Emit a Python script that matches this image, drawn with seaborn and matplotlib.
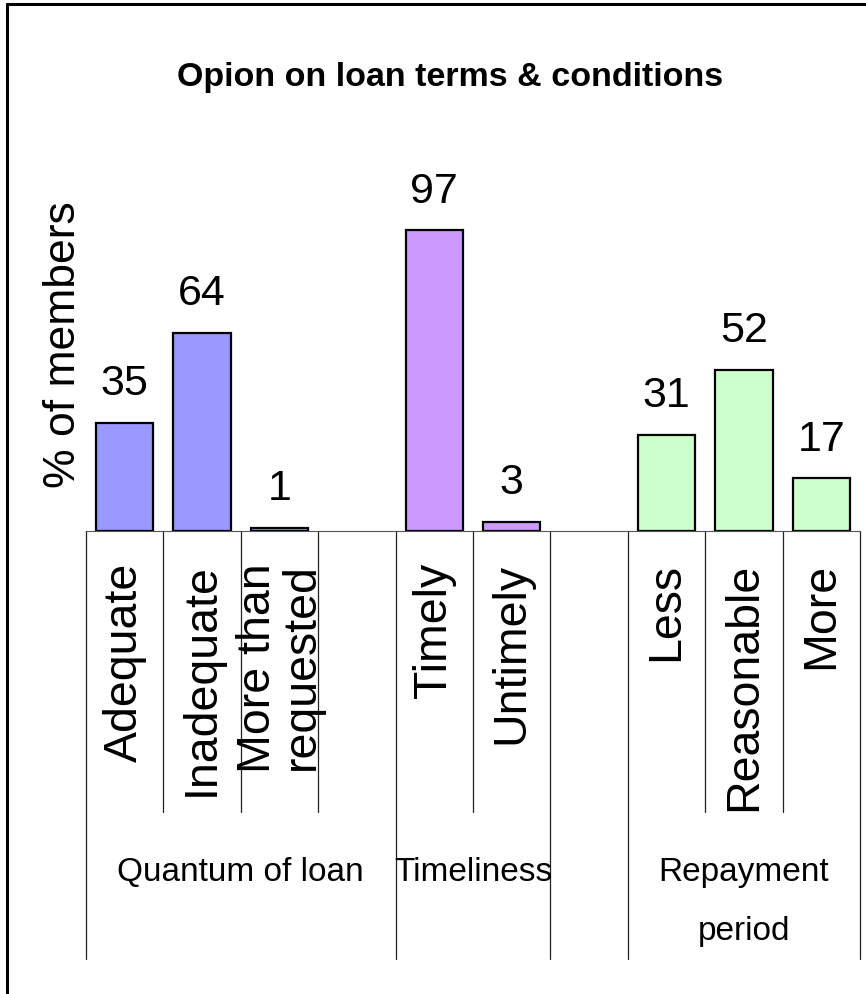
import matplotlib
matplotlib.use("Agg")
import matplotlib.pyplot as plt
import matplotlib.transforms as mtransforms
from matplotlib.lines import Line2D
import numpy as np
import pandas as pd
import seaborn as sns

# ---- data -------------------------------------------------------------
title = "Opion on loan terms & conditions"
y_label = "% of members"

# inner category cells (blank cells keep the gaps between groups)
categories = ["Adequate", "Inadequate", "More than\nrequested", "",
              "Timely", "Untimely", "",
              "Less", "Reasonable", "More"]
# outer group of each cell
groups = ["Quantum of loan"] * 4 + ["Timeliness"] * 2 + [""] + ["Repayment\nperiod"] * 3
# percentage of members
values = [35, 64, 1, np.nan, 97, 3, np.nan, 31, 52, 17]

group_colors = {
    "Quantum of loan": "#9999FF",
    "Timeliness": "#CC99FF",
    "Repayment\nperiod": "#CCFFCC",
}

W, H, DPI = 866, 995, 100

sns.set_theme(style="white")
plt.rcParams["font.family"] = ["Liberation Sans", "DejaVu Sans"]
plt.rcParams["text.color"] = "black"

fig = plt.figure(figsize=(W / DPI, H / DPI), dpi=DPI)
fig.patch.set_facecolor("white")


def fy(py):
    """pixel row -> figure fraction"""
    return 1 - py / H


# plot area (pixels)
left, right, top, bottom = 86, 860, 222, 532
ax = fig.add_axes([left / W, fy(bottom), (right - left) / W, (bottom - top) / H])

df = pd.DataFrame({"slot": range(len(categories)), "value": values, "group": groups}).dropna()

sns.barplot(
    data=df, x="slot", y="value", hue="group",
    order=list(range(len(categories))), hue_order=list(group_colors),
    palette=group_colors, saturation=1, width=0.74,
    edgecolor="black", linewidth=1.6, legend=False, ax=ax,
)

ax.set_xlim(-0.5, len(categories) - 0.5)
ax.set_ylim(0, 100)
ax.set_xticks([])
ax.set_yticks([])
ax.set_xlabel("")
ax.set_ylabel("")
ax.patch.set_visible(False)
for name, sp in ax.spines.items():
    sp.set_visible(name == "bottom")
ax.spines["bottom"].set_color("#555555")
ax.spines["bottom"].set_linewidth(0.8)

# value labels above the bars
for cont in ax.containers:
    ax.bar_label(cont, fmt="%g", padding=14, fontsize=31, color="black")

trans = mtransforms.blended_transform_factory(ax.transData, fig.transFigure)

# inner category labels
for i, lab in enumerate(categories):
    if lab:
        ax.text(i, fy(563), lab, transform=trans, rotation=90, ha="center",
                va="top", fontsize=33.5, linespacing=1.0,
                multialignment="right", clip_on=False)

# separators of the two-level category axis
n = len(categories)
for k in range(n + 1):
    outer = k == 0 or k == n or groups[k - 1] != groups[k]
    end = 960 if outer else 813
    ax.add_line(Line2D([k - 0.5, k - 0.5], [fy(bottom), fy(end)], transform=trans,
                       color="#222222", lw=0.9, clip_on=False))

# outer group labels
start = 0
for k in range(1, n + 1):
    if k == n or groups[k] != groups[start]:
        name = groups[start]
        if name:
            ax.text((start + k - 1) / 2, fy(857), name, transform=trans,
                    ha="center", va="top", fontsize=24,
                    linespacing=2.15, clip_on=False)
        start = k

# title and axis title
fig.text(450 / W, fy(86), title, ha="center", va="baseline", fontsize=24.5,
         fontweight="bold")
fig.text(63.5 / W, fy(345), y_label, rotation=90, ha="center", va="center",
         fontsize=32)

# chart border (top and left edges)
fig.add_artist(Line2D([6.5 / W, 6.5 / W], [0, fy(4.5)], transform=fig.transFigure,
                      color="black", lw=2.2))
fig.add_artist(Line2D([6.5 / W, 1], [fy(4.5), fy(4.5)], transform=fig.transFigure,
                      color="black", lw=2.2))

fig.savefig("out.png", dpi=DPI, facecolor="white")
